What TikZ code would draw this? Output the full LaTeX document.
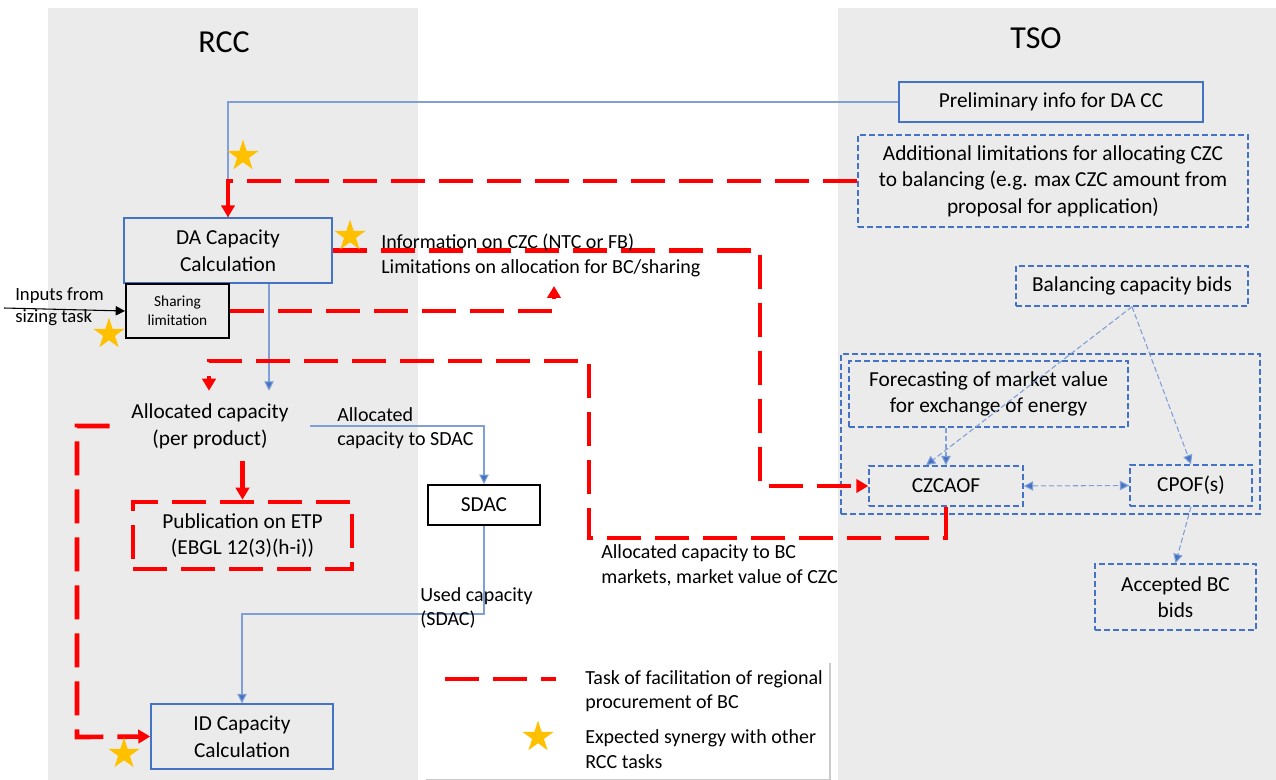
\documentclass[tikz,border=0pt]{standalone}
\usepackage{fontspec}
\setmainfont{Carlito}
\usetikzlibrary{shapes.geometric,arrows.meta,calc,shadows}
\definecolor{bgray}{HTML}{EBEBEB}
\definecolor{bblue}{HTML}{4472C4}
\definecolor{lblue}{HTML}{7F9FD6}
\definecolor{rred}{HTML}{FF0000}
\definecolor{gold}{HTML}{FFC000}
\newcommand\szA{\fontsize{16}{20}\selectfont}
\newcommand\szB{\fontsize{15}{18.5}\selectfont}
\newcommand\szC{\fontsize{11.5}{14}\selectfont}
\newcommand\szT{\fontsize{24}{28}\selectfont}
\newcommand\szI{\fontsize{14}{16.5}\selectfont}
\tikzset{
  box/.style={rectangle, inner sep=0pt, align=center, font=\szA},
  bluebox/.style={box, draw=bblue, line width=1.1pt},
  dashbox/.style={box, draw=bblue, line width=1.1pt, dash pattern=on 4.5pt off 2.25pt},
  blackbox/.style={box, draw=black, line width=1.5pt},
  redbox/.style={box, draw=rred, line width=3.5pt, dash pattern=on 25.5pt off 10.5pt},
  lbl/.style={inner sep=0pt, align=left, font=\szB, anchor=west},
  redflow/.style={draw=rred, line width=3.5pt, dash pattern=on 25.5pt off 10.5pt},
  redarr/.style={redflow, -{Triangle[width=10pt,length=9pt]}},
  bline/.style={draw=lblue, line width=0.8pt},
  barr/.style={bline, -{Triangle[width=7pt,length=7pt,fill=bblue]}},
  bdarr/.style={draw=lblue, line width=0.8pt, dash pattern=on 4pt off 2pt, -{Triangle[width=7pt,length=7pt,fill=bblue]}},
  bdarr2/.style={bdarr, {Triangle[width=7pt,length=7pt,fill=bblue]}-{Triangle[width=7pt,length=7pt,fill=bblue]}},
  gstar/.style={star, star points=5, star point ratio=2.618, minimum size=24.5pt, inner sep=0pt, fill=gold, draw=none},
}
\begin{document}
\begin{tikzpicture}[x=0.75pt,y=-0.75pt]
\useasboundingbox (0,0) rectangle (1276,780);
\fill[white] (0,0) rectangle (1276,780);
\fill[bgray] (48,8) rectangle (418,780);
\fill[bgray] (838,8) rectangle (1276,780);

\node[font=\szT] (rcc) at (224,42) {RCC};
\node[font=\szT] (tso) at (1036,38) {TSO};

% boxes
\node[bluebox, minimum width=156pt, minimum height=48.75pt] (da) at (228,250.5) {DA Capacity\\Calculation};
\node[blackbox, font=\szC, minimum width=77.25pt, minimum height=40.5pt] (share) at (177.5,311) {Sharing\\limitation};
\node[bluebox, minimum width=228pt, minimum height=30pt] (prelim) at (1051,102) {Preliminary info for DA CC};
\node[dashbox, minimum width=292.5pt, minimum height=69pt] (addl) at (1053,181) {Additional limitations for allocating CZC\\to balancing (e.g. max CZC amount from\\proposal for application)};
\node[box, minimum width=150pt, minimum height=52.5pt] (alloc) at (210,426) {Allocated capacity\\(per product)};
\node[redbox, minimum width=164.25pt, minimum height=50.25pt] (pub) at (242.5,535.5) {Publication on ETP\\(EBGL 12(3)(h-i))};
\node[blackbox, minimum width=84pt, minimum height=30pt] (sdac) at (484,505) {SDAC};
\node[bluebox, minimum width=136.5pt, minimum height=48.75pt] (id) at (242,736.5) {ID Capacity\\Calculation};
\node[dashbox, minimum width=174pt, minimum height=30pt] (bal) at (1132,286) {Balancing capacity bids};
\node[dashbox, minimum width=314.25pt, minimum height=120pt] (grp) at (1050.5,434) {};
\node[dashbox, minimum width=209.25pt, minimum height=49.5pt] (fore) at (988.5,394) {Forecasting of market value\\for exchange of energy};
\node[dashbox, minimum width=115.5pt, minimum height=30pt] (czc) at (946,486) {CZCAOF};
\node[dashbox, minimum width=91.5pt, minimum height=30.75pt] (cpof) at (1191,485.5) {CPOF(s)};
\node[dashbox, minimum width=120.75pt, minimum height=49.5pt] (acc) at (1175.5,597) {Accepted BC\\bids};

% helper coordinates
\coordinate (inp) at (4,308);
\coordinate (r1) at (760,0);
\coordinate (infoarr) at (554,286);
\coordinate (bx) at (269,0);
\coordinate (r2) at (589,538);
\coordinate (r3) at (209,361);
\coordinate (r4) at (77,737);
\coordinate (b2) at (0,614);

% blue connectors
\draw[bline] (prelim.west) -| (da.north);
\draw[barr] (da.south -| bx) -- (alloc.north -| bx);
\draw[barr] (alloc.east) -| (sdac.north);
\draw[barr] (sdac.south) -- (sdac.south |- b2) -| (id.north);
\draw[draw=black, line width=0.8pt, -{Triangle[width=7pt,length=7pt]}] (inp) -- (share.west);

% dashed blue connectors (TSO)
\draw[bdarr] (bal.south) -- ($(czc.north)+(-20,0)$);
\draw[bdarr] (bal.south) -- (cpof.north);
\draw[bdarr] (fore.south -| czc.north) -- (czc.north);
\draw[bdarr2] (czc.east) -- (cpof.west);
\draw[bdarr] (cpof.south) -- (acc.north);

% red flows
\draw[redarr] (addl.west) -| (da.north);
\draw[redarr] (da.east) -- (da.east -| r1) |- (czc.west);
\draw[redarr] (share.east) -| (infoarr);
\draw[redarr] (czc.south) |- (r2) |- (r3) -- (r3 |- alloc.north);
\draw[redarr] (alloc.south -| pub.north) -- (pub.north);
\draw[redarr] (alloc.west) -| (r4) -- (id.west);

% labels
\node[lbl, font=\szI] (inputs) at (15,307) {Inputs from\\sizing task};
\node[lbl] (info) at (381,255.5) {Information on CZC (NTC or FB)\\Limitations on allocation for BC/sharing};
\node[lbl] (asdac) at (337,428) {Allocated\\capacity to SDAC};
\node[lbl] (used) at (420,608) {Used capacity\\(SDAC)};
\node[lbl] (abc) at (601,565) {Allocated capacity to BC\\markets, market value of CZC};

% stars
\node[gstar] (s1) at (243,156) {};
\node[gstar] (s2) at (350,236) {};
\node[gstar] (s3) at (109,334) {};
\node[gstar] (s4) at (124,754) {};

% legend
\node[fill=white, draw=none, inner sep=0pt, minimum width=303.75pt, minimum height=88.5pt,
      drop shadow={shadow xshift=1.2pt, shadow yshift=-1.2pt, fill=black!40, opacity=0.5}] (leg) at (626.5,720) {};
\coordinate (l1) at (445,679);
\coordinate (l2) at (556,679);
\draw[redflow] (l1) -- (l2);
\node[lbl] (legt1) at (585,691) {Task of facilitation of regional\\procurement of BC};
\node[gstar] (legstar) at (538,737) {};
\node[lbl] (legt2) at (585,749) {Expected synergy with other\\RCC tasks};
\end{tikzpicture}
\end{document}
